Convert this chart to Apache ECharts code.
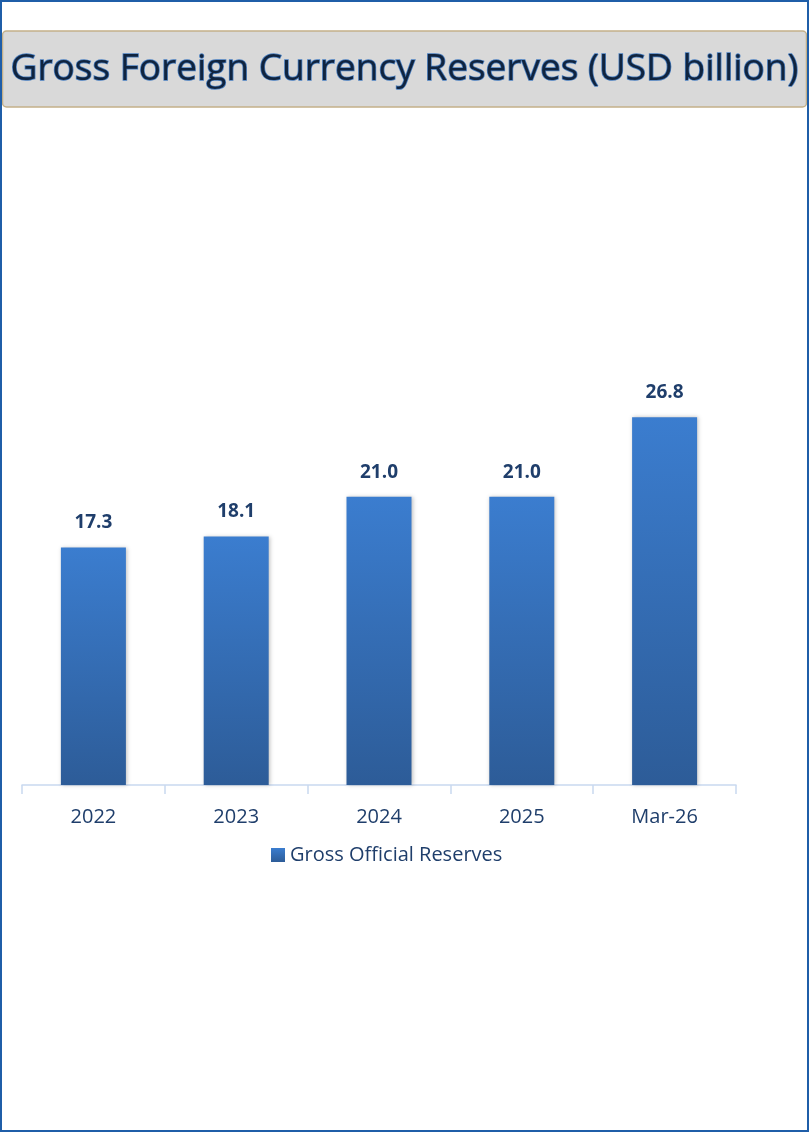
<!DOCTYPE html>
<html>
<head>
<meta charset="utf-8">
<script src="https://cdn.jsdelivr.net/npm/echarts@6/dist/echarts.min.js"></script>
<style>
html,body{margin:0;padding:0;background:#fff;}
#c{width:809px;height:1132px;}
</style>
</head>
<body>
<div id="c"></div>
<script>
const categories = ['2022', '2023', '2024', '2025', 'Mar-26'];
const reserves = [17.3, 18.1, 21.0, 21.0, 26.8];
const seriesName = 'Gross Official Reserves';
const titleText = 'Gross Foreign Currency Reserves (USD billion)';

const chart = echarts.init(document.getElementById('c'), null, {renderer: 'canvas'});
const fontFam = '"Open Sans", "Noto Sans", sans-serif';
chart.setOption({
  animation: false,
  backgroundColor: '#ffffff',
  graphic: [
    {type: 'rect', shape: {x: 1, y: 1, width: 807, height: 1130}, style: {fill: 'none', stroke: '#1f5ea8', lineWidth: 2}, z: 100},
    {type: 'rect', shape: {x: 2.5, y: 31, width: 804, height: 76, r: 4}, style: {fill: '#d9d9d9', stroke: '#c4b089', lineWidth: 1.5}, z: 0}
  ],
  title: {
    text: titleText,
    left: 'center',
    top: 46,
    textStyle: {
      fontFamily: fontFam,
      fontSize: 37,
      fontWeight: 'normal',
      color: '#10243f',
      textBorderColor: '#4a7fc0',
      textBorderWidth: 1.5
    },
    z: 10
  },
  legend: {
    data: [seriesName],
    top: 840,
    left: 266,
    itemWidth: 14,
    itemHeight: 14,
    itemGap: 6,
    icon: 'rect',
    textStyle: {fontFamily: fontFam, fontSize: 20, color: '#1f3e6b'}
  },
  grid: {left: 22, right: 73, top: 236, bottom: 347, containLabel: false},
  xAxis: {
    type: 'category',
    data: categories,
    axisLine: {lineStyle: {color: '#c9d9ef', width: 1.5}},
    axisTick: {show: true, length: 9, lineStyle: {color: '#c9d9ef', width: 1.5}},
    axisLabel: {fontFamily: fontFam, fontSize: 20, color: '#1f3e6b', margin: 22}
  },
  yAxis: {
    type: 'value',
    min: 0,
    max: 40,
    show: false,
    splitLine: {show: false}
  },
  series: [{
    name: seriesName,
    type: 'bar',
    data: reserves,
    barWidth: 65,
    itemStyle: {
      color: new echarts.graphic.LinearGradient(0, 0, 0, 1, [
        {offset: 0, color: '#3b7dcf'},
        {offset: 1, color: '#2d5c98'}
      ]),
      shadowColor: 'rgba(0,0,0,0.25)',
      shadowBlur: 4,
      shadowOffsetX: 1
    },
    label: {
      show: true,
      position: 'top',
      distance: 15,
      formatter: p => p.value.toFixed(1),
      fontFamily: fontFam,
      fontSize: 19,
      fontWeight: 'bold',
      color: '#1f3e6b'
    }
  }]
});
</script>
</body>
</html>
